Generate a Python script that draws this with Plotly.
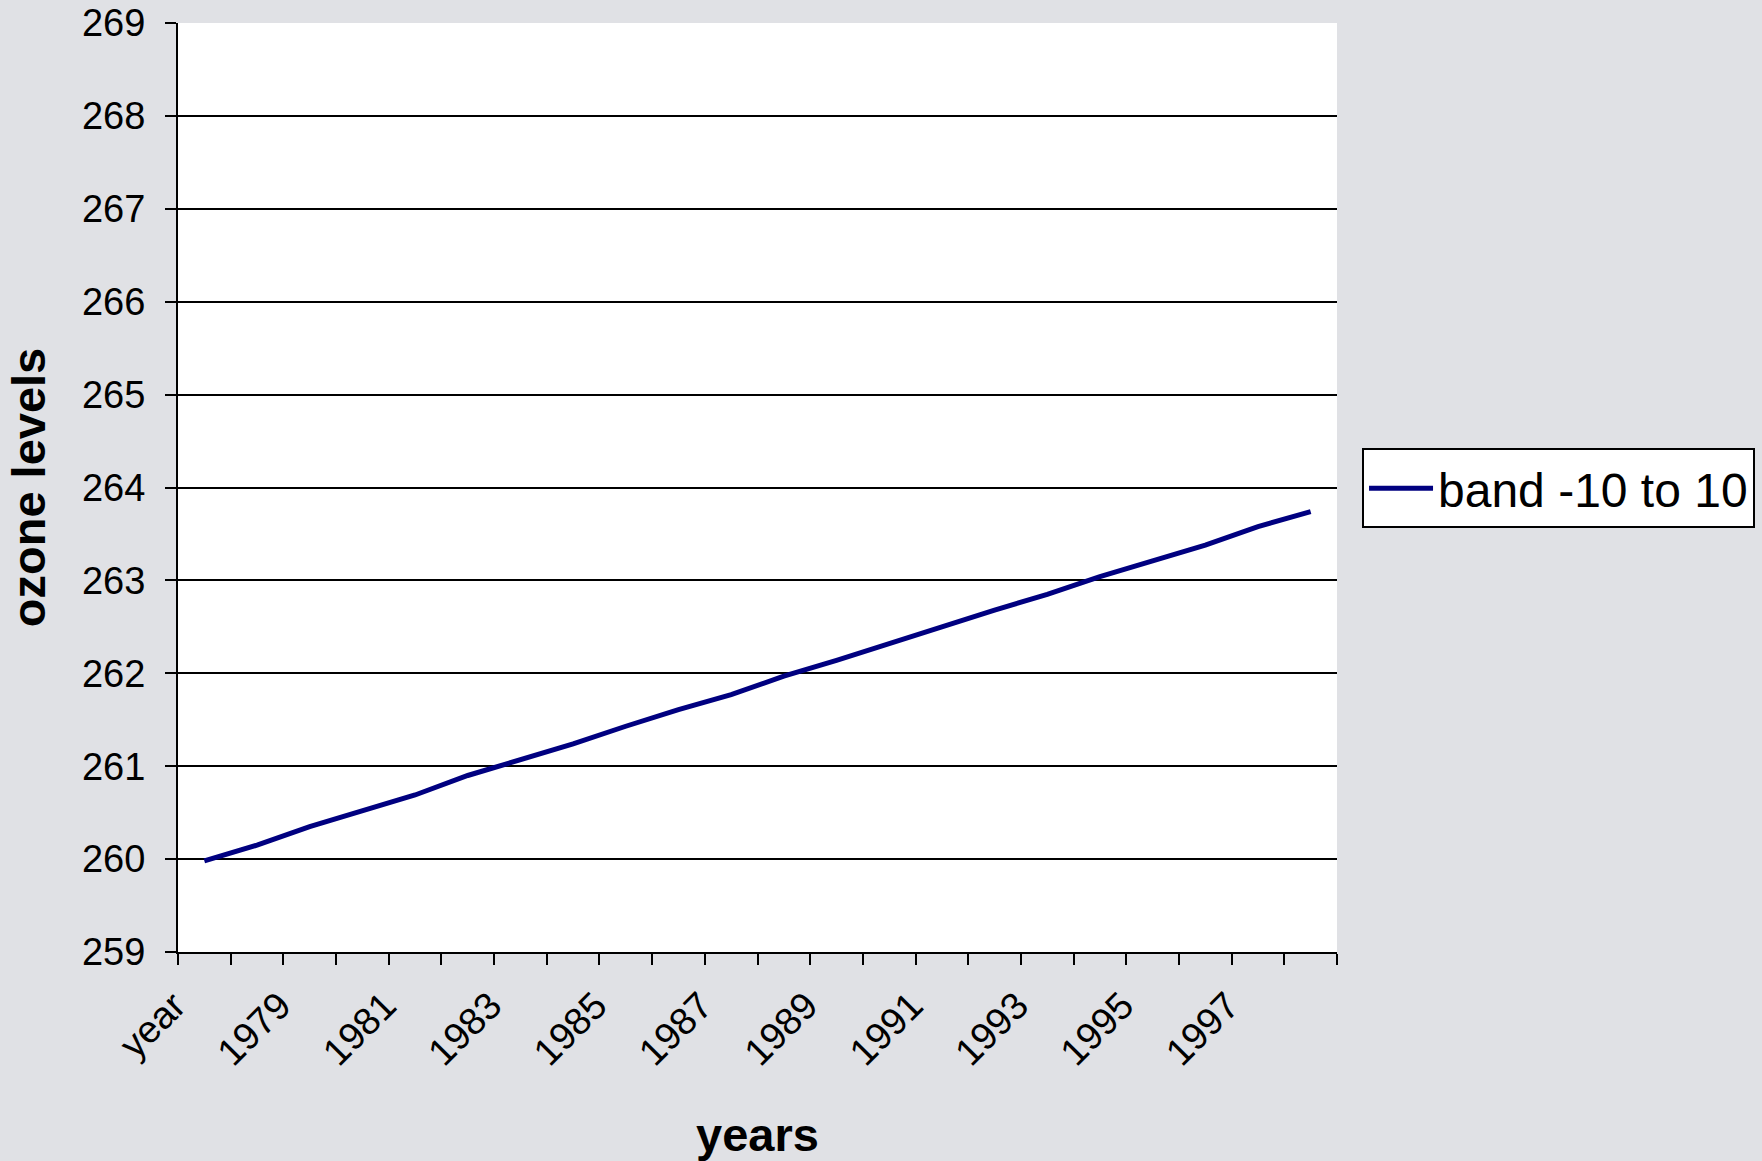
import plotly.graph_objects as go

categories = ["year"] + [str(y) for y in range(1978, 1999)]
ozone = [259.98, 260.15, 260.35, 260.52, 260.69, 260.90, 261.07, 261.24,
         261.43, 261.61, 261.77, 261.97, 262.14, 262.32, 262.51, 262.68,
         262.85, 263.04, 263.21, 263.38, 263.58, 263.74]
tick_labels = [c if i % 2 == 0 else "" for i, c in enumerate(categories)]
series_name = "band -10 to 10"

FONT = "Liberation Sans, Arial, sans-serif"

fig = go.Figure()
fig.add_trace(go.Scatter(
    x=categories, y=ozone, mode="lines", name=series_name,
    line=dict(color="#000080", width=5),
))

fig.update_layout(
    width=1762, height=1161,
    margin=dict(l=178, r=425, t=23, b=209, autoexpand=False),
    paper_bgcolor="#e0e1e5",
    plot_bgcolor="white",
    font=dict(family=FONT, color="black", size=38),
    showlegend=True,
    legend=dict(
        x=1.0216, xanchor="left", y=0.499, yanchor="middle",
        bgcolor="white", bordercolor="black", borderwidth=2,
        font=dict(size=48, family=FONT),
        itemwidth=64,
    ),
    xaxis=dict(
        type="category",
        tickmode="array", tickvals=categories, ticktext=tick_labels,
        tickson="boundaries",
        tickangle=-45,
        range=[-0.5, len(categories) - 0.5],
        showline=True, linecolor="black", linewidth=2,
        ticks="outside", ticklen=11, tickwidth=2, tickcolor="black",
        showgrid=False, zeroline=False,
        automargin=False,
        tickfont=dict(size=38),
        ticklabelshift=-30, ticklabelstandoff=14,
        title=dict(text="<b>years</b>", font=dict(size=47), standoff=50),
    ),
    yaxis=dict(
        range=[259, 269], dtick=1, tick0=259,
        showline=True, linecolor="black", linewidth=2,
        ticks="outside", ticklen=11, tickwidth=2, tickcolor="black",
        showgrid=True, gridcolor="black", gridwidth=2,
        zeroline=False,
        automargin=False,
        tickfont=dict(size=38),
        ticklabelstandoff=12,
        title=dict(text="<b>ozone levels</b>", font=dict(size=47), standoff=22),
    ),
)

fig.write_html("out.html", config={"displayModeBar": False},
               post_script="document.body.style.margin='0px';")
